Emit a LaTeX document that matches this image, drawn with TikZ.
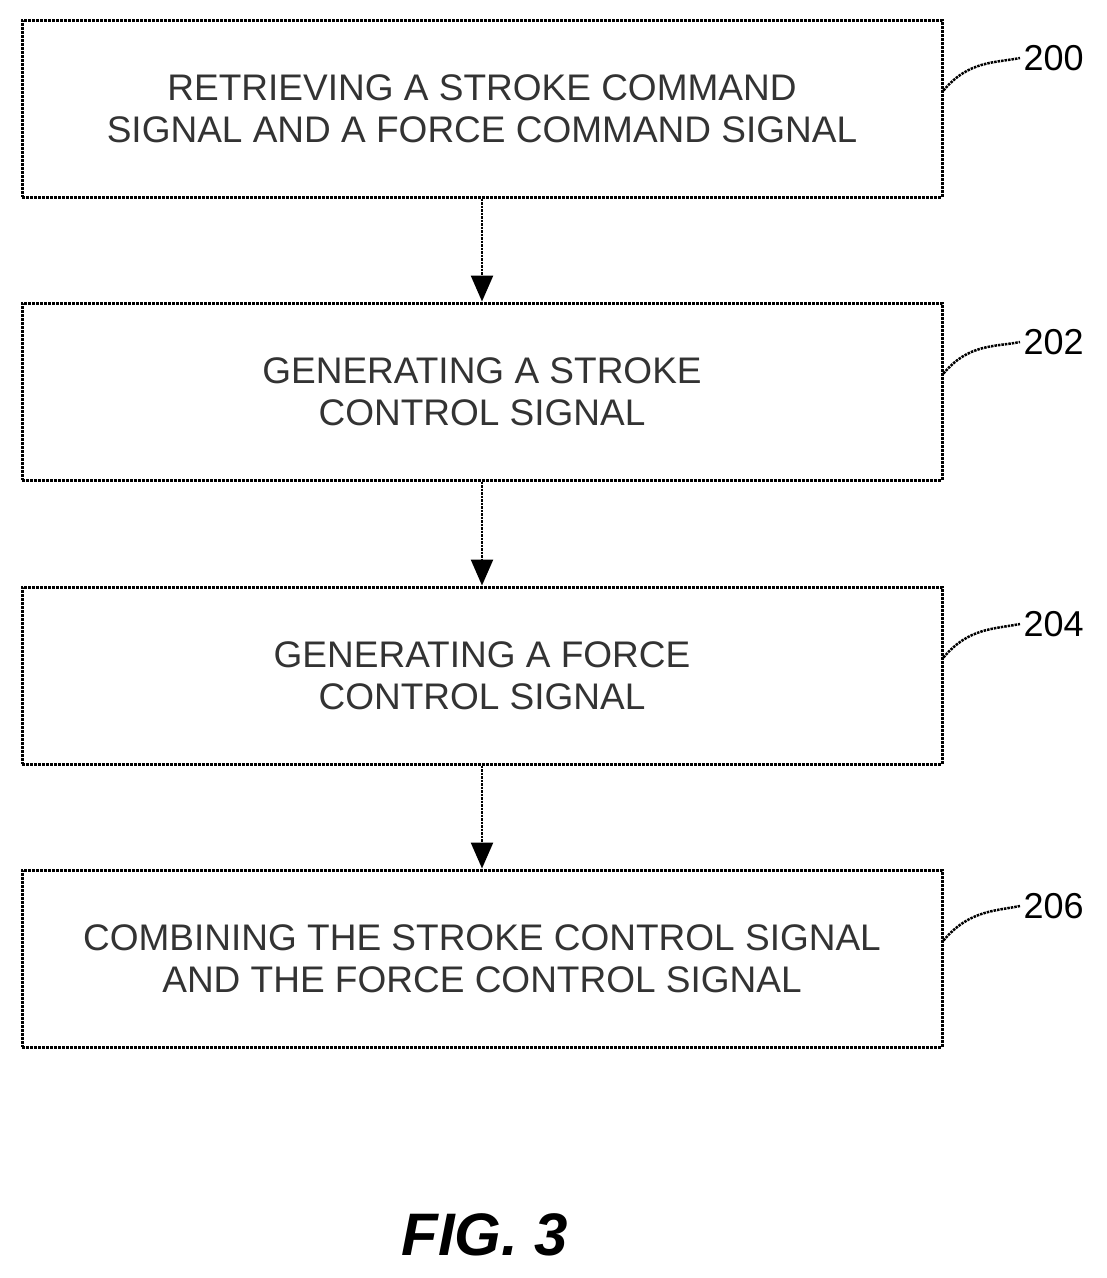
\documentclass[tikz,border=0pt]{standalone}
\usepackage{fontspec}
\setmainfont{Liberation Sans}
\usetikzlibrary{arrows.meta}
\begin{document}
\begin{tikzpicture}[x=1pt,y=-1pt,
 box/.style={draw,line width=3pt,densely dotted,minimum width=920pt,minimum height=177pt,align=center,font=\fontsize{37}{42}\selectfont,text=black!80},
 lab/.style={font=\fontsize{36}{40}\selectfont,anchor=west},
 arr/.style={line width=2.5pt,densely dotted,-{Triangle[width=22pt,length=26pt]}},
 lead/.style={line width=2.5pt,densely dotted}]
\useasboundingbox (0,0) rectangle (1107,1278);
\node[box] (b1) at (482,108.5) {RETRIEVING A STROKE COMMAND\\SIGNAL AND A FORCE COMMAND SIGNAL};
\node[box] (b2) at (482,391.5) {GENERATING A STROKE\\CONTROL SIGNAL};
\node[box] (b3) at (482,675.5) {GENERATING A FORCE\\CONTROL SIGNAL};
\node[box] (b4) at (482,958.5) {COMBINING THE STROKE CONTROL SIGNAL\\AND THE FORCE CONTROL SIGNAL};
\draw[arr] (b1) -- (b2);
\draw[arr] (b2) -- (b3);
\draw[arr] (b3) -- (b4);
\node[lab] (l1) at (1020,58) {200};
\node[lab] (l2) at (1020,342) {202};
\node[lab] (l3) at (1020,624) {204};
\node[lab] (l4) at (1020,906) {206};
\foreach \b/\l in {b1/l1,b2/l2,b3/l3,b4/l4}
  \draw[lead] (\b.east) ++(0,-18) .. controls +(25,-30) and +(-25,5) .. (\l.west);
\node[font=\fontsize{60}{64}\selectfont\bfseries\itshape] (fig) at (485,1235) {FIG. 3};
\end{tikzpicture}
\end{document}
